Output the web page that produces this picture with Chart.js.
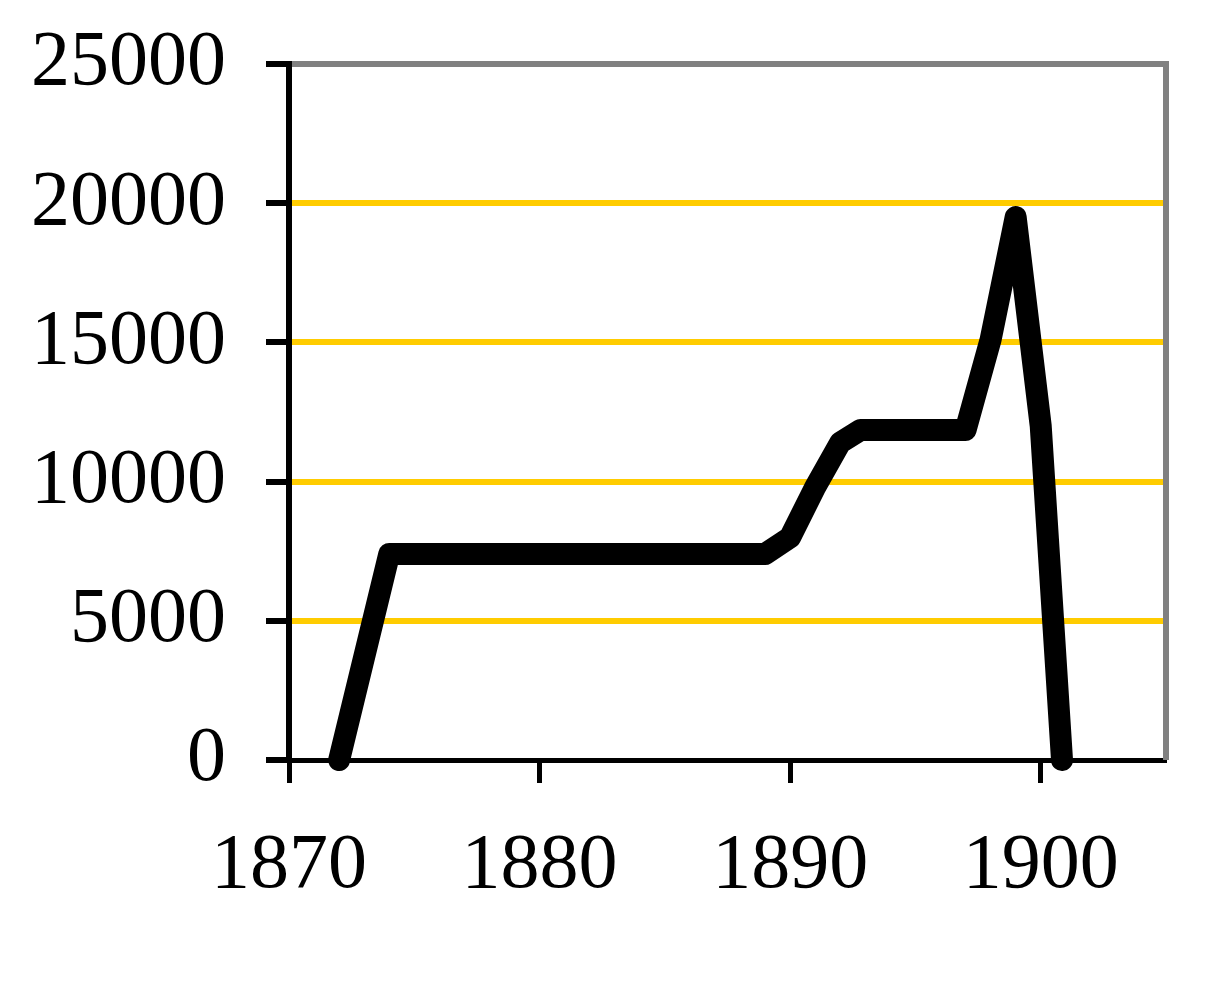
<!DOCTYPE html>
<html>
<head>
<meta charset="utf-8">
<script src="https://cdn.jsdelivr.net/npm/chart.js@4"></script>
<style>
  html, body { margin: 0; padding: 0; background: #fff; }
  #chart { display: block; }
</style>
</head>
<body>
<canvas id="chart" width="1221" height="1008"></canvas>
<script>
// years (x) and values (y)
const years = [1872, 1874, 1889, 1890, 1891, 1892, 1892.8, 1897, 1898, 1899, 1900, 1900.85];
const values = [0, 7400, 7400, 8000, 9800, 11400, 11850, 11850, 15100, 19500, 12000, 0];
const xTicks = [1870, 1880, 1890, 1900];
const yTicks = [0, 5000, 10000, 15000, 20000, 25000];

const points = years.map((y, i) => ({ x: y, y: values[i] }));

// gray frame on the right side of the plot area
const framePlugin = {
    id: 'frame',
    beforeDatasetsDraw(chart) {
        const a = chart.chartArea;
        const ctx = chart.ctx;
        ctx.save();
        ctx.strokeStyle = '#808080';
        ctx.lineWidth = 6;
        ctx.beginPath();
        ctx.moveTo(a.right, a.top - 3);
        ctx.lineTo(a.right, a.bottom);
        ctx.stroke();
        ctx.restore();
    }
};

new Chart(document.getElementById('chart').getContext('2d'), {
    type: 'line',
    data: {
        datasets: [{
            data: points,
            borderColor: '#000',
            borderWidth: 22,
            borderCapStyle: 'round',
            borderJoinStyle: 'round',
            pointRadius: 0,
            tension: 0,
            clip: false
        }]
    },
    options: {
        responsive: false,
        animation: false,
        layout: { padding: { top: 64, right: 55, left: 0, bottom: 0 } },
        plugins: {
            legend: { display: false },
            tooltip: { enabled: false }
        },
        scales: {
            x: {
                type: 'linear',
                min: 1870,
                max: 1905,
                afterBuildTicks: scale => {
                    scale.ticks = xTicks.map(v => ({ value: v }));
                },
                afterFit: scale => {
                    scale.height = 248;
                    scale.paddingLeft = 0;
                    scale.paddingRight = 0;
                },
                grid: {
                    drawOnChartArea: false,
                    drawTicks: true,
                    tickLength: 23,
                    tickWidth: 5,
                    tickColor: '#000'
                },
                border: { color: '#000', width: 5 },
                ticks: {
                    padding: 37,
                    color: '#000',
                    font: { family: 'Liberation Serif', size: 78 },
                    maxRotation: 0,
                    callback: v => String(v)
                }
            },
            y: {
                min: 0,
                max: 25000,
                afterBuildTicks: scale => {
                    scale.ticks = yTicks.map(v => ({ value: v }));
                },
                afterFit: scale => {
                    scale.width = 289;
                    scale.paddingTop = 0;
                    scale.paddingBottom = 0;
                },
                grid: {
                    color: c => c.tick.value === 25000 ? '#808080' : (c.tick.value === 0 ? 'rgba(0,0,0,0)' : '#FFCC00'),
                    lineWidth: 6,
                    tickLength: 23,
                    tickWidth: 6,
                    tickColor: '#000'
                },
                border: { color: '#000', width: 6 },
                ticks: {
                    padding: 40,
                    color: '#000',
                    font: { family: 'Liberation Serif', size: 78 },
                    callback: v => String(v)
                }
            }
        }
    },
    plugins: [framePlugin]
});
</script>
</body>
</html>
